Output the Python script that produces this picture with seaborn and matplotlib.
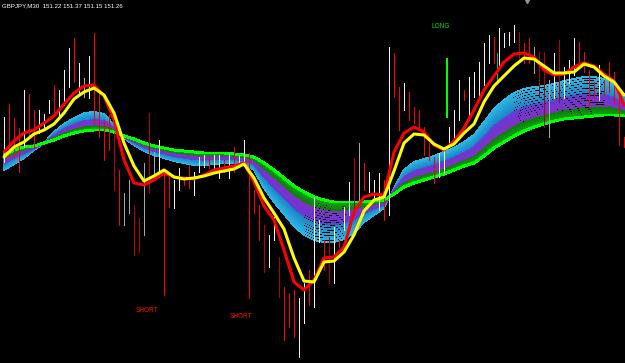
import numpy as np
import pandas as pd
import matplotlib
matplotlib.use("Agg")
import matplotlib.pyplot as plt
from matplotlib.colors import LinearSegmentedColormap, to_hex
import seaborn as sns

# ---------------- data (prices) ----------------
header_text = "GBPJPY,M30  151.22 151.37 151.15 151.26"

bar_high = [
    151.76, 152.02, 151.74, 151.54, 152.30, 152.22, 151.90, 151.90, 151.82, 152.10,
    152.40, 152.30, 152.70, 153.14, 153.34, 152.84, 152.54, 152.98, 153.44, 152.24,
    151.70, 151.80, 151.44, 150.70, 150.24, 150.50, 150.00, 149.74, 150.84, 151.84,
    151.06, 151.30, 150.70, 150.56, 150.50, 150.74, 150.54, 150.80, 150.66, 150.96,
    151.00, 150.94, 151.00, 151.00, 150.90, 151.04, 151.16, 151.00, 151.30, 151.04,
    150.30, 150.00, 149.60, 149.40, 149.76, 148.96, 148.36, 148.24, 148.30, 148.14,
    148.44, 148.70, 150.16, 149.70, 149.30, 149.36, 149.56, 149.30, 149.96, 150.46,
    150.94, 151.24, 150.84, 150.66, 150.50, 150.64, 150.50, 153.16, 153.04, 152.36,
    152.44, 152.26, 151.96, 151.90, 151.56, 151.24, 150.96, 151.04, 151.10, 151.56,
    151.90, 152.50, 152.30, 152.56, 152.66, 152.86, 153.24, 153.40, 153.36, 153.54,
    153.44, 153.46, 153.60, 153.46, 153.24, 153.34, 153.16, 153.06, 153.06, 152.50,
    153.04, 153.30, 152.76, 152.90, 153.34, 153.26, 153.06, 152.70, 152.46, 152.80,
    152.50, 152.86, 152.66, 152.30, 151.36,
]
bar_low = [
    150.86, 150.96, 150.94, 150.66, 151.16, 151.36, 151.14, 151.44, 151.50, 151.84,
    151.84, 151.80, 152.00, 152.36, 152.46, 152.24, 152.16, 152.14, 151.64, 151.36,
    150.90, 151.10, 150.30, 149.60, 149.60, 149.84, 149.00, 149.06, 149.40, 150.24,
    150.60, 150.56, 148.20, 149.96, 149.94, 150.30, 150.40, 150.34, 150.20, 150.66,
    150.76, 150.74, 150.70, 150.54, 150.66, 150.54, 150.66, 150.76, 150.80, 148.14,
    149.84, 149.30, 148.66, 148.76, 149.30, 148.16, 147.30, 147.56, 147.36, 146.96,
    147.64, 148.00, 147.96, 149.26, 148.70, 148.44, 148.44, 149.16, 149.50, 149.80,
    149.80, 150.04, 150.30, 150.26, 150.10, 149.90, 149.70, 149.80, 152.16, 151.50,
    151.90, 151.70, 151.64, 151.56, 151.00, 150.90, 150.44, 150.56, 150.64, 151.16,
    151.30, 151.70, 152.10, 151.70, 152.16, 152.16, 152.40, 152.84, 152.84, 152.76,
    153.16, 153.20, 153.26, 152.94, 152.84, 152.84, 152.64, 152.16, 151.56, 151.36,
    152.14, 152.06, 152.14, 152.44, 152.60, 152.76, 152.66, 152.00, 152.14, 152.10,
    152.20, 152.26, 152.04, 151.20, 151.16,
]
# w = bull bar, g = dim bull bar, r = bear bar, d = dim bear bar
bar_kind = list(
    "wrrrwrrwww" "rwwwrwgwrr" "rrdrggddgd" "gwrrwwrrww" "wrwwrwrwwr"
    "rrdwwdrrrw" "wrwwrdwrww" "dgrwwwrwrr" "wrrrrrrwww" "wwrwwwwwrw"
    "wwwdrrgddg" "wdwwwrrrrw" "rrrrr"
)

# indicator lines sampled every second bar
line_bar = list(range(0, 125, 2))
red_line = [
    151.06, 151.28, 151.44, 151.50, 151.64, 151.78, 152.02, 152.24, 152.38, 152.40,
    152.18, 151.70, 150.90, 150.44, 150.40, 150.50, 150.64, 150.56, 150.54, 150.52,
    150.60, 150.70, 150.74, 150.78, 150.84, 150.46, 149.98, 149.70, 149.10, 148.46,
    148.30, 148.50, 148.94, 148.96, 149.16, 149.86, 150.16, 150.22, 150.20, 151.06,
    151.44, 151.56, 151.46, 151.20, 151.10, 151.28, 151.54, 151.90, 152.30, 152.58,
    152.86, 153.02, 153.04, 152.96, 152.70, 152.60, 152.62, 152.76, 152.84, 152.78,
    152.62, 152.48, 152.00,
]
yellow_line = [
    150.96, 151.16, 151.26, 151.42, 151.50, 151.62, 151.84, 152.12, 152.26, 152.34,
    152.20, 151.84, 151.24, 150.78, 150.48, 150.58, 150.70, 150.56, 150.52, 150.54,
    150.58, 150.64, 150.68, 150.72, 150.82, 150.54, 150.14, 149.84, 149.52, 148.94,
    148.48, 148.46, 148.86, 148.88, 149.06, 149.40, 149.88, 150.10, 150.16, 150.68,
    151.24, 151.42, 151.40, 151.22, 151.12, 151.22, 151.44, 151.62, 152.06, 152.38,
    152.58, 152.78, 152.94, 152.92, 152.78, 152.64, 152.64, 152.66, 152.82, 152.76,
    152.58, 152.46, 152.20,
]
ribbon_fast = [
    150.70, 150.82, 150.94, 151.10, 151.24, 151.46, 151.62, 151.74, 151.84, 151.86,
    151.82, 151.60, 151.34, 151.20, 151.08, 151.00, 150.94, 150.88, 150.84, 150.80,
    150.80, 150.82, 150.84, 150.84, 150.80, 150.70, 150.34, 150.06, 149.82, 149.58,
    149.40, 149.30, 149.26, 149.26, 149.32, 149.44, 149.66, 149.80, 149.94, 150.34,
    150.70, 150.86, 150.92, 150.98, 151.06, 151.14, 151.26, 151.40, 151.66, 151.92,
    152.10, 152.24, 152.32, 152.36, 152.38, 152.42, 152.48, 152.52, 152.56, 152.56,
    152.52, 152.42, 152.22,
]
ribbon_slow = [
    151.00, 151.10, 151.16, 151.18, 151.24, 151.30, 151.38, 151.44, 151.48, 151.50,
    151.50, 151.46, 151.38, 151.32, 151.24, 151.18, 151.14, 151.10, 151.08, 151.06,
    151.04, 151.04, 151.04, 151.02, 151.00, 150.96, 150.84, 150.70, 150.54, 150.38,
    150.26, 150.16, 150.10, 150.06, 150.06, 150.06, 150.06, 150.08, 150.10, 150.22,
    150.36, 150.44, 150.50, 150.56, 150.62, 150.70, 150.78, 150.84, 150.98, 151.14,
    151.26, 151.38, 151.48, 151.56, 151.62, 151.68, 151.72, 151.74, 151.76, 151.78,
    151.80, 151.80, 151.78,
]

# signal marks and labels
long_signal_bar = [88.6, 98.6]
long_signal_top = [152.94, 153.04]
long_signal_bottom = [151.74, 152.50]
long_label = ("LONG", 87.4, 153.56)
short_labels = [("SHORT", 28.6, 147.88), ("SHORT", 47.4, 147.76)]

# ---------------- drawing ----------------
sns.set_theme(style="dark", rc={"axes.facecolor": "black", "figure.facecolor": "black"})
plt.rcParams["font.family"] = ["Liberation Sans", "DejaVu Sans"]

fig = plt.figure(figsize=(6.25, 3.63), dpi=100)
ax = fig.add_axes([0, 0, 1, 1])
ax.set_facecolor("black")

# ribbon of moving averages between fast and slow edges
n_rib = 18
ribbon_cmap = LinearSegmentedColormap.from_list(
    "rib",
    [(0.0, "#2CB8E4"), (0.38, "#1C84C8"), (0.42, "#6638D0"), (0.70, "#8430CC"),
     (0.74, "#0A7C0A"), (1.0, "#14A814")],
)
fast = np.array(ribbon_fast)
slow = np.array(ribbon_slow)
for k in range(n_rib):
    t = k / (n_rib - 1)
    frac = 1 - (1 - t) ** 1.1
    df = pd.DataFrame({"bar": line_bar, "ma": fast + frac * (slow - fast)})
    col = to_hex(ribbon_cmap(t))
    lw = 0.6
    if k == n_rib - 1:
        col, lw = "#00FF00", 1.4
    sns.lineplot(data=df, x="bar", y="ma", color=col, lw=lw, ax=ax, zorder=1,
                 antialiased=False)

# OHLC bars
kind_color = {"w": "#F2F2F2", "g": "#A8A8A8", "r": "#FF0000", "d": "#B40000"}
bars = pd.DataFrame({"bar": np.arange(len(bar_high)), "high": bar_high,
                     "low": bar_low, "kind": bar_kind})
ax.vlines(bars["bar"], bars["low"], bars["high"],
          colors=[kind_color[k] for k in bars["kind"]], lw=0.6,
          antialiased=False, zorder=2)

# long signal bars
ax.vlines(long_signal_bar[0], long_signal_bottom[0], long_signal_top[0],
          colors="#00FF00", lw=1.4, antialiased=False, zorder=3)
ax.vlines(long_signal_bar[1], long_signal_bottom[1], long_signal_top[1],
          colors="#00D000", lw=0.6, antialiased=False, zorder=3)

# red and yellow averages
lines = pd.DataFrame({"bar": line_bar, "red": red_line, "yellow": yellow_line})
sns.lineplot(data=lines, x="bar", y="red", color="#FF0000", lw=2.2, ax=ax, zorder=4)
sns.lineplot(data=lines, x="bar", y="yellow", color="#FFFF00", lw=2.2, ax=ax, zorder=5)

# texts
ax.text(0.004, 0.99, header_text, transform=ax.transAxes, ha="left", va="top",
        color="white", fontsize=4.4)
ax.text(long_label[1], long_label[2], long_label[0], color="#00E000",
        fontsize=4.7, ha="center", va="center")
for txt, xb, yp in short_labels:
    ax.text(xb, yp, txt, color="#FF1010", fontsize=4.7, ha="center", va="center")
ax.plot([104.6], [154.08], marker="v", ms=3, color="#8C9AA8", zorder=6)

ax.set_xlim(-0.8, 124.2)
ax.set_ylim(146.84, 154.10)
ax.set_xlabel("")
ax.set_ylabel("")
ax.set_xticks([])
ax.set_yticks([])
for s in ax.spines.values():
    s.set_visible(False)
ax.grid(False)
legend = ax.get_legend()
if legend:
    legend.remove()

fig.savefig("out.png", dpi=100, facecolor="black")
